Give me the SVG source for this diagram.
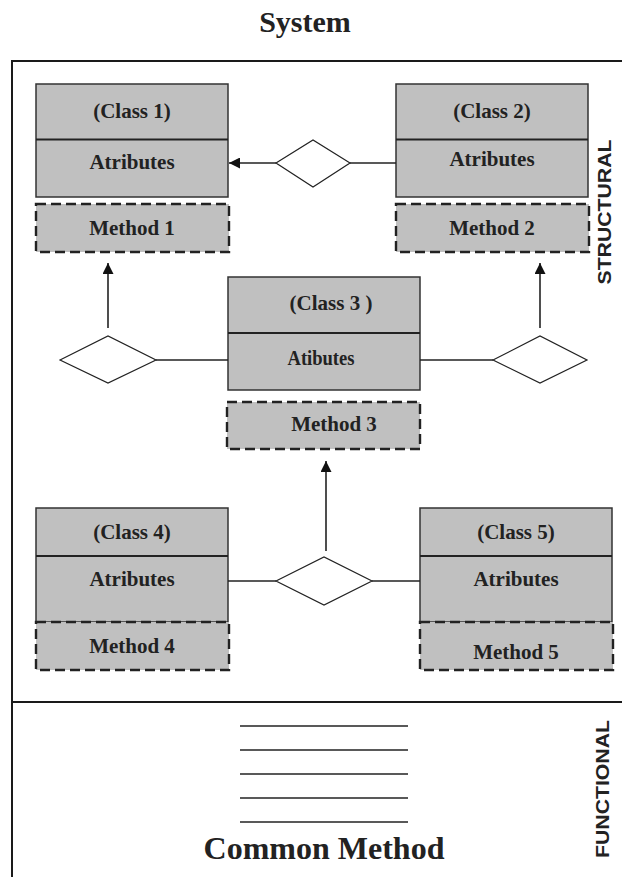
<svg xmlns="http://www.w3.org/2000/svg" width="622" height="877" viewBox="0 0 622 877">
<defs>
<style>
.box{fill:#c0c0c0;stroke:#333;stroke-width:1.5}
.meth{fill:#c0c0c0;stroke:#222;stroke-width:2.4;stroke-dasharray:10,5}
.div{stroke:#222;stroke-width:1.8}
.t{font-family:"Liberation Serif","Times New Roman",serif;font-weight:bold;font-size:21px;fill:#222;text-anchor:middle}
.side{font-family:"Liberation Sans",Arial,sans-serif;font-weight:bold;font-size:18px;fill:#222;text-anchor:middle}
.ln{stroke:#222;stroke-width:1.6;fill:none}
.dia{fill:#fff;stroke:#222;stroke-width:1.2}
.frame{stroke:#1a1a1a;stroke-width:2;fill:none}
</style>
<marker id="ah" viewBox="0 0 10 10" refX="10" refY="5" markerWidth="11" markerHeight="11" markerUnits="userSpaceOnUse" orient="auto">
<path d="M0,0 L10,5 L0,10 z" fill="#111"/>
</marker>
</defs>
<rect width="622" height="877" fill="#fff"/>
<text x="305" y="32" class="t" style="font-size:30px">System</text>
<g id="frame">
<path class="frame" d="M622,61 H12 V877"/>
<line class="frame" x1="12" y1="702" x2="622" y2="702"/>
</g>
<g id="class1">
<rect class="box" x="36" y="84" width="192" height="113"/>
<line class="div" x1="36" y1="139.5" x2="228" y2="139.5"/>
<text class="t" x="132" y="118">(Class 1)</text>
<text class="t" x="132" y="169">Atributes</text>
<rect class="meth" x="36" y="204" width="193" height="48"/>
<text class="t" x="132" y="235">Method 1</text>
</g>
<g id="class2">
<rect class="box" x="396" y="84" width="192" height="113"/>
<line class="div" x1="396" y1="139.5" x2="588" y2="139.5"/>
<text class="t" x="492" y="118">(Class 2)</text>
<text class="t" x="492" y="166">Atributes</text>
<rect class="meth" x="396" y="204" width="193" height="48"/>
<text class="t" x="492" y="235">Method 2</text>
</g>
<g id="class3">
<rect class="box" x="228" y="277" width="192" height="113"/>
<line class="div" x1="228" y1="333" x2="420" y2="333"/>
<text class="t" x="331" y="310">(Class 3 )</text>
<text class="t" x="321" y="365" textLength="67" lengthAdjust="spacingAndGlyphs">Atibutes</text>
<rect class="meth" x="227" y="402" width="193" height="47"/>
<text class="t" x="334" y="431">Method  3</text>
</g>
<g id="class4">
<rect class="box" x="36" y="508" width="192" height="114"/>
<line class="div" x1="36" y1="556" x2="228" y2="556"/>
<text class="t" x="132" y="539">(Class 4)</text>
<text class="t" x="132" y="586">Atributes</text>
<rect class="meth" x="36" y="622" width="193" height="48"/>
<text class="t" x="132" y="653">Method 4</text>
</g>
<g id="class5">
<rect class="box" x="420" y="508" width="192" height="114"/>
<line class="div" x1="420" y1="556" x2="612" y2="556"/>
<text class="t" x="516" y="539">(Class 5)</text>
<text class="t" x="516" y="586">Atributes</text>
<rect class="meth" x="420" y="622" width="193" height="48"/>
<text class="t" x="516" y="659">Method 5</text>
</g>
<g id="diamond-top">
<polygon class="dia" points="276,163 313,140 350,163 313,187"/>
</g>
<g id="diamond-left">
<polygon class="dia" points="60,360 108,336 156,360 108,383"/>
</g>
<g id="diamond-right">
<polygon class="dia" points="493,360 540,336 587,360 540,383"/>
</g>
<g id="diamond-bottom">
<polygon class="dia" points="276,581 324,557 372,581 324,605"/>
</g>
<g id="connectors">
<line class="ln" x1="276" y1="163" x2="229" y2="163" marker-end="url(#ah)"/>
<line class="ln" x1="350" y1="163" x2="396" y2="163"/>
<line class="ln" x1="108" y1="328" x2="108" y2="263" marker-end="url(#ah)"/>
<line class="ln" x1="156" y1="360" x2="228" y2="360"/>
<line class="ln" x1="420" y1="360" x2="493" y2="360"/>
<line class="ln" x1="540" y1="328" x2="540" y2="263" marker-end="url(#ah)"/>
<line class="ln" x1="326" y1="551" x2="326" y2="461" marker-end="url(#ah)"/>
<line class="ln" x1="228" y1="581" x2="276" y2="581"/>
<line class="ln" x1="372" y1="581" x2="420" y2="581"/>
</g>
<g id="common-method">
<line class="ln" x1="240" y1="726" x2="408" y2="726"/>
<line class="ln" x1="240" y1="750" x2="408" y2="750"/>
<line class="ln" x1="240" y1="774" x2="408" y2="774"/>
<line class="ln" x1="240" y1="798" x2="408" y2="798"/>
<line class="ln" x1="240" y1="822" x2="408" y2="822"/>
<text class="t" x="324" y="859" style="font-size:32px">Common Method</text>
</g>
<text class="side" transform="translate(611,212) rotate(-90)" textLength="145" lengthAdjust="spacingAndGlyphs">STRUCTURAL</text>
<text class="side" transform="translate(609,789) rotate(-90)" textLength="138" lengthAdjust="spacingAndGlyphs">FUNCTIONAL</text>
</svg>
